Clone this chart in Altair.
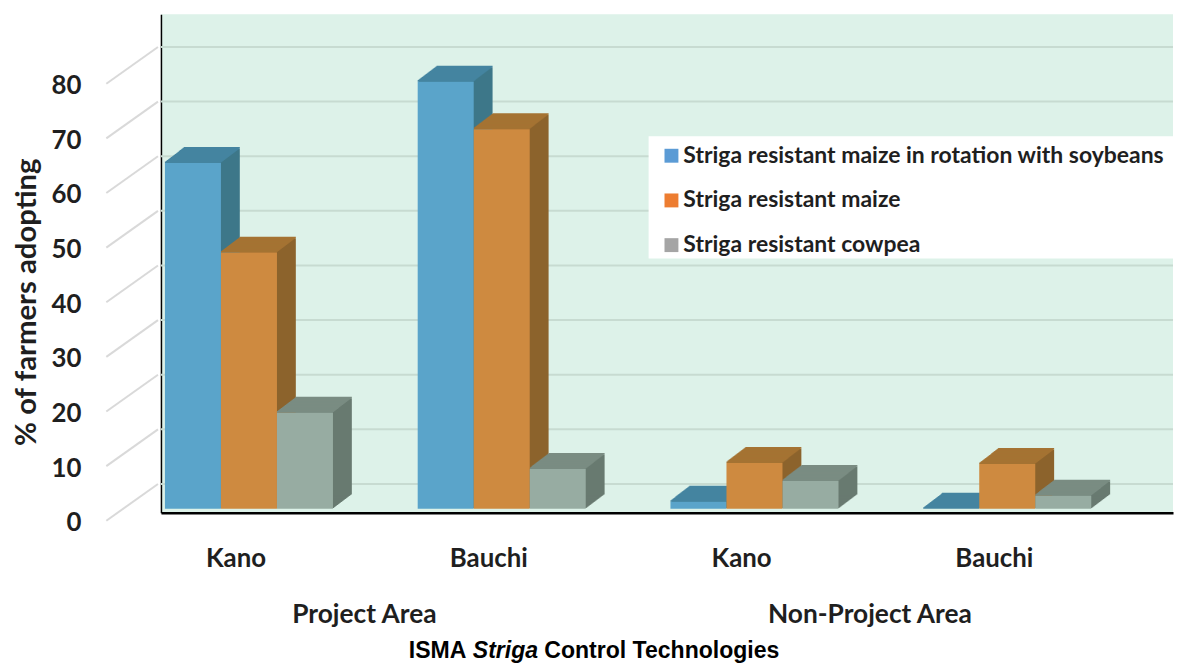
import altair as alt
import pandas as pd

# ---------------- data ----------------
districts = ["Kano", "Bauchi", "Kano", "Bauchi"]
regions = ["Project Area", "Project Area", "Non-Project Area", "Non-Project Area"]
series_names = [
    "Striga resistant maize in rotation with soybeans",
    "Striga resistant maize",
    "Striga resistant cowpea",
]
maize_rotation = [63.3, 78.2, 1.3, 0.0]
maize = [46.9, 69.5, 8.4, 8.2]
cowpea = [17.6, 7.3, 5.1, 2.4]
y_ticks = [0, 10, 20, 30, 40, 50, 60, 70, 80]

# ---------------- styles ----------------
front_colors = ["#5aa4ca", "#ce8a40", "#97aca2"]
top_colors = ["#4484a0", "#a57333", "#7a8c82"]
side_colors = ["#3d7789", "#8c632c", "#687a70"]
legend_colors = ["#5b9bd5", "#ed7d31", "#a5a5a5"]
FONT = "Lato"

PLOT_W, PLOT_H = 1019, 502
PX_PER_GROUP = 254.5
GROUP_LEFT = 4 / PX_PER_GROUP
BAR_W = 56.4 / PX_PER_GROUP
PX_PER_UNIT = 5.5
Y_MIN = -4 / PX_PER_UNIT
Y_MAX = 498 / PX_PER_UNIT
DX, DY = 19.0, 14.5   # 3-D depth in pixels
N = 19                # layers used to build the extruded faces

series_values = [maize_rotation, maize, cowpea]

rows = []
for g in range(len(districts)):
    for s in range(len(series_names)):
        x0 = g + GROUP_LEFT + s * BAR_W
        rows.append(dict(g=g, s=s, district=districts[g], region=regions[g],
                         series=series_names[s], value=series_values[s][g],
                         x0=x0, x1=x0 + BAR_W,
                         front=front_colors[s], top=top_colors[s], side=side_colors[s]))
bars = pd.DataFrame(rows)

groups = pd.DataFrame(dict(district=districts, region=regions,
                           xc=[g + GROUP_LEFT + 1.5 * BAR_W for g in range(len(districts))]))
ticks = pd.DataFrame(dict(v=y_ticks, label=[str(v) for v in y_ticks]))
legend_df = pd.DataFrame(dict(idx=list(range(len(series_names))), name=series_names,
                              col=legend_colors))
one = pd.DataFrame(dict(a=[0]))

xscale = alt.Scale(domain=[0, PLOT_W / PX_PER_GROUP], nice=False, zero=False)
yscale = alt.Scale(domain=[Y_MIN, Y_MAX], nice=False, zero=False)
xaxis = alt.Axis(labels=False, ticks=False, grid=False, title=None,
                 domainColor="black", domainWidth=2.5)
yaxis = alt.Axis(labels=False, ticks=False, grid=False, title=None,
                 domainColor="black", domainWidth=1.5)

X0 = alt.X("x0:Q", scale=xscale, axis=xaxis)
X1 = alt.X2("x1:Q")
YV = alt.Y("value:Q", scale=yscale, axis=yaxis)

layers = []

# back-wall gridlines
layers.append(alt.Chart(ticks).mark_rule(color="#c7dbd1", strokeWidth=2, yOffset=-25).encode(
    y=alt.Y("v:Q", scale=yscale, axis=yaxis)))
# side-wall gridlines (diagonals left of the plot)
layers.append(alt.Chart(ticks).mark_rule(color="#d9d9d9", strokeWidth=2, yOffset=12, y2Offset=-25).encode(
    x=alt.value(-55), x2=alt.value(-3),
    y=alt.Y("v:Q", scale=yscale, axis=yaxis), y2=alt.Y2("v:Q")))

base = alt.Chart(bars)
# extruded side faces
for k in range(1, N + 1):
    t = k / N
    layers.append(base.mark_rect(xOffset=t * DX, x2Offset=t * DX,
                                 yOffset=-t * DY, y2Offset=-t * DY).encode(
        x=X0, x2=X1, y=YV, y2=alt.datum(0),
        color=alt.Color("side:N", scale=None)))
# top faces
h = DY / N + 0.8
for k in range(0, N + 1):
    t = k / N
    layers.append(base.mark_rect(xOffset=t * DX, x2Offset=t * DX,
                                 yOffset=-t * DY - h, y2Offset=-t * DY).encode(
        x=X0, x2=X1, y=YV, y2=alt.Y2("value:Q"),
        color=alt.Color("top:N", scale=None)))
# front faces
layers.append(base.mark_rect().encode(
    x=X0, x2=X1, y=YV, y2=alt.datum(0),
    color=alt.Color("front:N", scale=None)))

# y tick labels
layers.append(alt.Chart(ticks).mark_text(align="right", baseline="middle", dy=14.5,
                                         font=FONT, fontSize=26, fontWeight="bold",
                                         color="#1f1f1f").encode(
    x=alt.value(-80), y=alt.Y("v:Q", scale=yscale, axis=yaxis), text="label:N"))

# y title
layers.append(alt.Chart(one).mark_text(angle=270, align="center", baseline="middle",
                                       font=FONT, fontSize=29.5, fontWeight="bold",
                                       color="#1f1f1f", text="% of farmers adopting").encode(
    x=alt.value(-135), y=alt.value(290)))

# district labels
layers.append(alt.Chart(groups).mark_text(align="center", baseline="middle", dx=-13,
                                          font=FONT, fontSize=26, fontWeight="bold",
                                          color="#1f1f1f").encode(
    x=alt.X("xc:Q", scale=xscale, axis=xaxis), y=alt.value(549), text="district:N"))
# region labels
layers.append(alt.Chart(groups).transform_aggregate(
    xm="mean(xc)", groupby=["region"]).mark_text(
    align="center", baseline="middle", dx=-11, font=FONT, fontSize=26.5,
    fontWeight="bold", color="#1f1f1f").encode(
    x=alt.X("xm:Q", scale=xscale, axis=xaxis), y=alt.value(604.5), text="region:N"))

# title with italic word
title_style = dict(baseline="alphabetic", align="left", font="Liberation Sans",
                   fontSize=23.2, fontWeight="bold", color="black")
layers.append(alt.Chart(one).mark_text(text="ISMA", **title_style).encode(
    x=alt.value(249.5), y=alt.value(648)))
layers.append(alt.Chart(one).mark_text(text="Striga", fontStyle="italic", **title_style).encode(
    x=alt.value(314), y=alt.value(648)))
layers.append(alt.Chart(one).mark_text(text="Control Technologies", **title_style).encode(
    x=alt.value(386), y=alt.value(648)))

# legend
layers.append(alt.Chart(one).mark_rect(color="white").encode(
    x=alt.value(491), x2=alt.value(1023), y=alt.value(123), y2=alt.value(246)))
leg = alt.Chart(legend_df).transform_calculate(ly="142.5 + 45 * datum.idx")
layers.append(leg.mark_square(size=196, opacity=1).encode(
    x=alt.value(514), y=alt.Y("ly:Q", scale=None, axis=None),
    color=alt.Color("col:N", scale=None)))
layers.append(leg.mark_text(align="left", baseline="middle", font=FONT, fontSize=23.1,
                            fontWeight="bold", color="#1f1f1f").encode(
    x=alt.value(526), y=alt.Y("ly:Q", scale=None, axis=None), text="name:N"))

chart = alt.layer(*layers).properties(
    width=PLOT_W, height=PLOT_H,
    autosize=alt.AutoSizeParams(type="none"),
    padding={"left": 154, "top": 4, "right": 2, "bottom": 150},
    background="white",
).configure_view(stroke=None, fill="#ddf2e9")

chart.save("out.html", embed_options={"renderer": "svg", "actions": False})
